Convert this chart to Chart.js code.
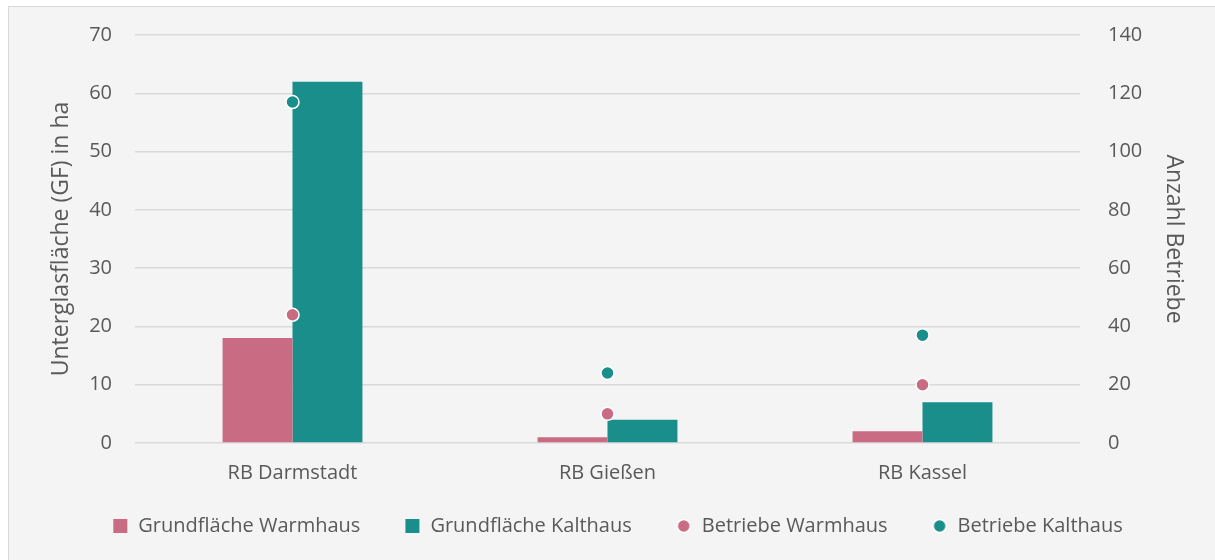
<!DOCTYPE html>
<html>
<head>
<meta charset="utf-8">
<script src="https://cdn.jsdelivr.net/npm/chart.js@4"></script>
<style>
  html, body { margin: 0; padding: 0; background: #ffffff; }
  #box { position: absolute; left: 8px; top: 6px; width: 1207px; height: 554px;
         background: #f4f4f4; border-top: 1px solid #d9d9d9; border-left: 1px solid #d9d9d9; box-sizing: border-box; }
  #wrap { position: absolute; left: 0; top: 0; width: 1206px; height: 553px; }
</style>
</head>
<body>
<div id="box"><div id="wrap"><canvas id="chart"></canvas></div></div>
<script>
const regions = ['RB Darmstadt', 'RB Gießen', 'RB Kassel'];
const flaecheWarm = [18, 1, 2];
const flaecheKalt = [62, 4, 7];
const betriebeWarm = [44, 10, 20];
const betriebeKalt = [117, 24, 37];

const pink = '#c96c83';
const teal = '#1a8e8a';
const textColor = '#595959';
const font = "'Open Sans', 'Liberation Sans', sans-serif";

// legend markers: empty room on the left (spacing between items), marker on the right
const markerW = 47;
function legendMarker(color, shape) {
  const c = document.createElement('canvas');
  c.width = markerW; c.height = 16;
  const g = c.getContext('2d');
  if (shape === 'rect') {
    g.fillStyle = color;
    g.fillRect(markerW - 15, 1, 14, 14);
  } else {
    g.beginPath();
    g.arc(markerW - 8, 8, 6.5, 0, Math.PI * 2);
    g.fillStyle = color;
    g.fill();
    g.lineWidth = 1.5;
    g.strokeStyle = '#ffffff';
    g.stroke();
  }
  return c;
}
const markers = [
  legendMarker(pink, 'rect'),
  legendMarker(teal, 'rect'),
  legendMarker(pink, 'circle'),
  legendMarker(teal, 'circle')
];

function noEdgePadding(scale) {
  scale.paddingTop = 0;
  scale.paddingBottom = 0;
}

const ctx = document.getElementById('chart').getContext('2d');
new Chart(ctx, {
  data: {
    labels: regions,
    datasets: [
      { type: 'bar', label: 'Grundfläche Warmhaus', data: flaecheWarm, backgroundColor: pink,
        yAxisID: 'y', order: 2 },
      { type: 'bar', label: 'Grundfläche Kalthaus', data: flaecheKalt, backgroundColor: teal,
        yAxisID: 'y', order: 2 },
      { type: 'line', label: 'Betriebe Warmhaus', data: betriebeWarm, showLine: false,
        pointRadius: 6.5, pointBackgroundColor: pink, pointBorderColor: '#ffffff', pointBorderWidth: 1.5,
        backgroundColor: pink, borderColor: '#ffffff', yAxisID: 'y1', order: 1 },
      { type: 'line', label: 'Betriebe Kalthaus', data: betriebeKalt, showLine: false,
        pointRadius: 6.5, pointBackgroundColor: teal, pointBorderColor: '#ffffff', pointBorderWidth: 1.5,
        backgroundColor: teal, borderColor: '#ffffff', yAxisID: 'y1', order: 1 }
    ]
  },
  options: {
    responsive: true,
    maintainAspectRatio: false,
    animation: false,
    datasets: { bar: { barPercentage: 1, categoryPercentage: 0.444 } },
    layout: { padding: { top: 28, left: 0, right: 20, bottom: 14 } },
    plugins: {
      legend: {
        position: 'bottom',
        labels: {
          usePointStyle: true,
          pointStyleWidth: markerW,
          boxHeight: 16,
          padding: 13,
          color: textColor,
          font: { family: font, size: 20 },
          sort: (a, b) => a.datasetIndex - b.datasetIndex,
          generateLabels: (chart) => {
            const items = Chart.defaults.plugins.legend.labels.generateLabels(chart);
            items.forEach(it => { it.pointStyle = markers[it.datasetIndex]; });
            return items;
          }
        }
      },
      tooltip: { enabled: false }
    },
    scales: {
      x: {
        grid: { display: false, drawTicks: false },
        border: { display: false },
        ticks: { color: textColor, font: { family: font, size: 20 }, padding: 18 }
      },
      y: {
        position: 'left',
        min: 0, max: 70,
        afterFit: (scale) => { scale.width = 126; noEdgePadding(scale); },
        ticks: { stepSize: 10, color: textColor, font: { family: font, size: 20 }, padding: 23 },
        grid: { color: '#d9d9d9', lineWidth: 1.5, drawTicks: false },
        border: { display: false },
        title: { display: true, text: 'Unterglasfläche (GF) in ha', color: textColor,
                 font: { family: font, size: 23 }, padding: { top: 39, bottom: 0 } }
      },
      y1: {
        position: 'right',
        min: 0, max: 140,
        afterFit: (scale) => { scale.width = 115; noEdgePadding(scale); },
        ticks: { stepSize: 20, color: textColor, font: { family: font, size: 20 }, padding: 28 },
        grid: { display: false, drawTicks: false },
        border: { display: false },
        title: { display: true, text: 'Anzahl Betriebe', color: textColor,
                 font: { family: font, size: 23 }, padding: { top: 8, bottom: 0 } }
      }
    }
  }
});
</script>
</body>
</html>
